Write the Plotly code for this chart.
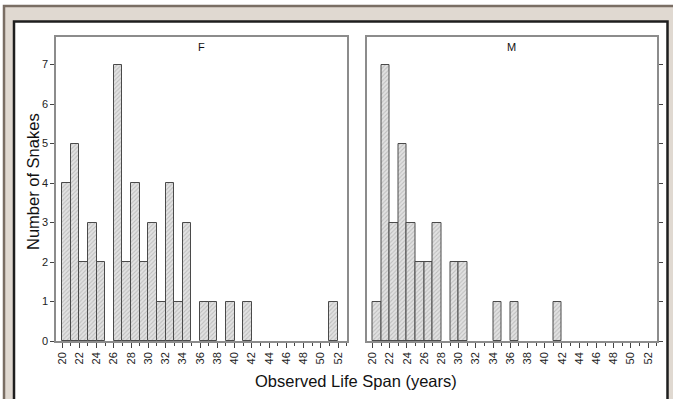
import plotly.graph_objects as go
from plotly.subplots import make_subplots

# ---- data ----
years = list(range(20, 53))
female_counts = [4, 5, 2, 3, 2, 0, 7, 2, 4, 2, 3, 1, 4, 1, 3, 0, 1, 1, 0, 1, 0, 1,
                 0, 0, 0, 0, 0, 0, 0, 0, 0, 1, 0]
male_counts = [1, 7, 3, 5, 3, 2, 2, 3, 0, 2, 2, 0, 0, 0, 1, 0, 1, 0, 0, 0, 0, 1,
               0, 0, 0, 0, 0, 0, 0, 0, 0, 0, 0]
panel_labels = ["F", "M"]
x_tick_labels = list(range(20, 53, 2))
y_tick_labels = list(range(0, 8))

W, H = 673, 399
L, R, T, B = 56, 16, 37, 58
PW, PH = W - L - R, H - T - B


def px(x):
    return (x - L) / PW


def py(y):
    return (H - B - y) / PH


fig = make_subplots(rows=1, cols=2, horizontal_spacing=0.03)

bar_style = dict(
    marker=dict(
        color="#e2e2e2",
        line=dict(color="#4a4a4a", width=1),
        pattern=dict(shape="/", fgcolor="#9a9a9a", size=3, solidity=0.35,
                     fillmode="overlay"),
    ),
    width=1,
    offset=0,
    showlegend=False,
)

for i, counts in enumerate([female_counts, male_counts]):
    xs = [y for y, c in zip(years, counts) if c > 0]
    ys = [c for c in counts if c > 0]
    fig.add_trace(go.Bar(x=xs, y=ys, **bar_style), row=1, col=i + 1)

FONT = "Liberation Sans, Arial, sans-serif"
tick_font = dict(family=FONT, size=11, color="#222")
xaxis_common = dict(
    range=[19.3, 53.04],
    tickmode="array",
    tickvals=x_tick_labels,
    ticktext=[str(v) for v in x_tick_labels],
    tickangle=-90,
    ticks="outside",
    ticklen=5,
    tickcolor="#444",
    tickfont=tick_font,
    minor=dict(dtick=1, tick0=20, ticks="outside", ticklen=3, tickcolor="#444"),
    showline=True,
    linecolor="#8c8c8c",
    linewidth=1.5,
    mirror=True,
    showgrid=False,
    zeroline=False,
    fixedrange=True,
)
yaxis_common = dict(
    range=[0, 7.7],
    tickmode="array",
    tickvals=y_tick_labels,
    ticks="outside",
    ticklen=4,
    tickcolor="#444",
    tickfont=tick_font,
    showline=True,
    linecolor="#8c8c8c",
    linewidth=1.5,
    mirror=True,
    showgrid=False,
    zeroline=False,
)

fig.update_layout(
    xaxis=dict(domain=[0, px(347)], **xaxis_common),
    xaxis2=dict(domain=[px(366.5), 1], **xaxis_common),
    yaxis=dict(domain=[0, 1], **yaxis_common),
    yaxis2=dict(domain=[0, 1], side="right", showticklabels=False, **yaxis_common),
)

# panel labels
for i, lab in enumerate(panel_labels):
    fig.add_annotation(
        text=lab, xref=("x domain" if i == 0 else "x2 domain"),
        yref=("y domain" if i == 0 else "y2 domain"),
        x=0.5, y=py(47), xanchor="center", yanchor="middle", showarrow=False,
        font=dict(family=FONT, size=11, color="#111111"),
    )

title_font = dict(family=FONT, size=16.5, color="#111111")
fig.add_annotation(text="Number of Snakes", xref="paper", yref="paper",
                   x=px(33), y=py(182), xanchor="center", yanchor="middle",
                   textangle=-90, showarrow=False, font=title_font)
fig.add_annotation(text="Observed Life Span (years)", xref="paper", yref="paper",
                   x=px(356), y=py(381), xanchor="center", yanchor="middle",
                   showarrow=False, font=title_font)

# background frames
fig.add_shape(type="rect", xref="paper", yref="paper", layer="below",
              x0=px(4), y0=py(6), x1=px(690), y1=py(420),
              fillcolor="#e0d9d1", line=dict(color="#7a6e64", width=2.5))
fig.add_shape(type="rect", xref="paper", yref="paper", layer="below",
              x0=px(14), y0=py(21.5), x1=px(667.5), y1=py(412),
              fillcolor="#ffffff", line=dict(color="#1e1e1e", width=2.5))

fig.update_layout(
    width=W, height=H,
    margin=dict(l=L, r=R, t=T, b=B),
    paper_bgcolor="#ffffff",
    plot_bgcolor="rgba(0,0,0,0)",
    bargap=0,
)

fig.write_html("out.html")
